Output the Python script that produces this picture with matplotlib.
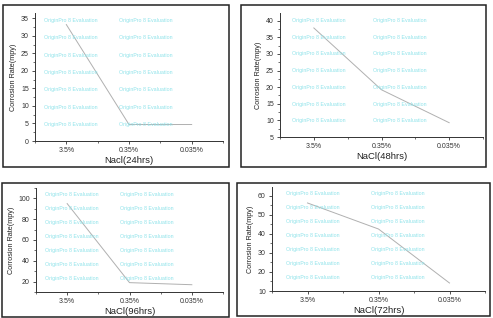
import matplotlib
matplotlib.use("Agg")
import matplotlib.pyplot as plt
from matplotlib.patches import Rectangle
from matplotlib.ticker import MultipleLocator

plt.rcParams['font.family'] = ['Liberation Sans', 'DejaVu Sans']

categories = ["3.5%", "0.35%", "0.035%"]
rate_24h = [33.2, 4.7, 4.7]
rate_48h = [37.8, 19.2, 9.3]
rate_96h = [95, 19, 17]
rate_72h = [56.3, 42.6, 14.2]

xlabels = ["Nacl(24hrs)", "NaCl(48hrs)", "NaCl(96hrs)", "NaCl(72hrs)"]
ylabel = "Corrosion Rate(mpy)"
watermark = "OriginPro 8 Evaluation"

W, H = 493, 318
fig = plt.figure(figsize=(W / 100, H / 100), dpi=100)

def fr(x0, y0, x1, y1):
    # pixel box (top-left origin) -> figure fraction rect
    return [x0 / W, 1 - y1 / H, (x1 - x0) / W, (y1 - y0) / H]

# outer frames
frames = [(3, 5, 229, 167), (241, 5, 486, 167), (2, 183, 229, 317), (237, 183, 490, 316)]
for (x0, y0, x1, y1) in frames:
    fig.patches.append(Rectangle((x0 / W, 1 - y1 / H), (x1 - x0) / W, (y1 - y0) / H,
                                 transform=fig.transFigure, fill=False,
                                 edgecolor='#222222', linewidth=1.1))

panels = [
    (fr(35, 13, 223, 141), rate_24h, (0, 36.5), 5, xlabels[0]),
    (fr(280, 13, 483, 137), rate_48h, (5, 42.3), 5, xlabels[1]),
    (fr(36, 188, 223, 292), rate_96h, (10, 110), 20, xlabels[2]),
    (fr(272, 187, 485, 291), rate_72h, (10, 64.7), 10, xlabels[3]),
]

for rect, vals, ylim, step, xl in panels:
    ax = fig.add_axes(rect)
    x = list(range(len(categories)))
    ax.plot(x, vals, color='#b0b0b0', linewidth=0.7)
    ax.set_xlim(-0.5, 2.5)
    ax.set_ylim(*ylim)
    ax.set_xticks(x)
    ax.set_xticklabels(categories)
    ax.xaxis.set_minor_locator(MultipleLocator(0.5))
    ax.yaxis.set_major_locator(MultipleLocator(step))
    ax.yaxis.set_minor_locator(MultipleLocator(step / 2))
    for s in ['top', 'right']:
        ax.spines[s].set_visible(False)
    for s in ['left', 'bottom']:
        ax.spines[s].set_linewidth(0.7)
        ax.spines[s].set_color('#333333')
    ax.tick_params(which='major', length=2.5, width=0.6, labelsize=5, pad=2, colors='#333333')
    ax.tick_params(which='minor', length=1.3, width=0.5, colors='#333333')
    ax.set_xlabel(xl, fontsize=6.8, labelpad=1.5, color='#222222')
    ax.set_ylabel(ylabel, fontsize=5.2, labelpad=2.5, color='#222222')
    # evaluation watermark
    for k in range(7):
        yy = 0.94 - k * 0.135
        for xx in (0.19, 0.59):
            ax.text(xx, yy, watermark, transform=ax.transAxes, fontsize=3.8,
                    color='#8fe3ea', ha='center', va='center')

fig.savefig("out.png", dpi=100)
